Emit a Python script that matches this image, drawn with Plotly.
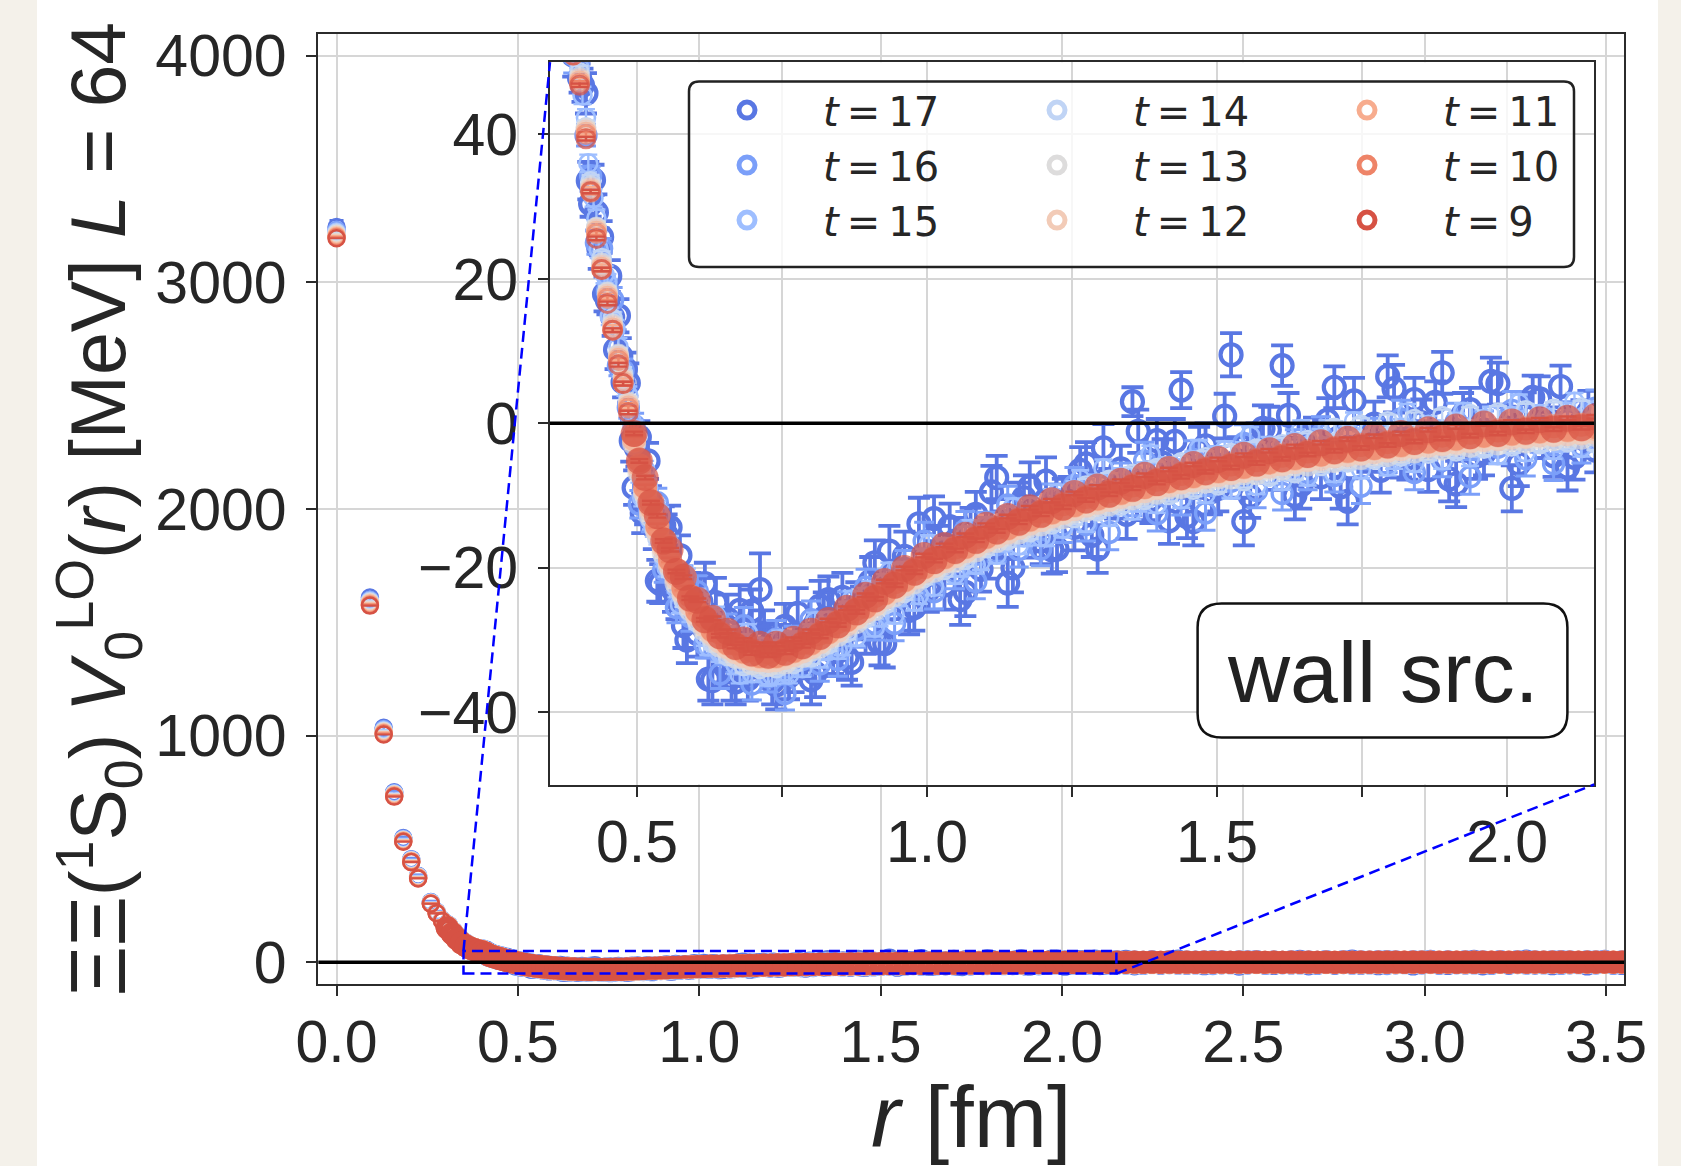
import plotly.graph_objects as go

W, H = 1681, 1166

# ---------------- data ----------------
r_fm = [
    0.000, 0.092, 0.130, 0.159, 0.184, 0.206, 0.225, 0.260, 0.276, 0.291, 0.305, 0.319, 0.332, 0.344, 0.357, 0.368, 0.379, 0.390,
    0.401, 0.412, 0.420, 0.430, 0.439, 0.449, 0.458, 0.468, 0.476, 0.485, 0.495, 0.504, 0.514, 0.524, 0.535, 0.546, 0.557, 0.568, 0.580, 0.592,
    0.604, 0.617, 0.630, 0.643, 0.656, 0.670, 0.684, 0.698, 0.712, 0.726, 0.740, 0.755, 0.770, 0.785, 0.800, 0.815, 0.830, 0.846, 0.862, 0.878,
    0.894, 0.910, 0.927, 0.944, 0.961, 0.978, 0.995, 1.012, 1.030, 1.048, 1.066, 1.084, 1.102, 1.120, 1.139, 1.158, 1.177, 1.196, 1.215, 1.234,
    1.254, 1.274, 1.294, 1.314, 1.334, 1.354, 1.375, 1.396, 1.417, 1.438, 1.459, 1.480, 1.502, 1.524, 1.546, 1.568, 1.590, 1.612, 1.634, 1.656,
    1.679, 1.702, 1.725, 1.748, 1.771, 1.794, 1.817, 1.840, 1.864, 1.888, 1.912, 1.936, 1.960, 1.984, 2.008, 2.032, 2.056, 2.080, 2.104, 2.128,
    2.152, 2.176, 2.200, 2.224, 2.248, 2.272, 2.296, 2.320, 2.344, 2.368, 2.392, 2.416, 2.440, 2.464, 2.488, 2.512, 2.536, 2.560, 2.584, 2.608,
    2.632, 2.656, 2.680, 2.704, 2.728, 2.752, 2.776, 2.800, 2.824, 2.848, 2.872, 2.896, 2.920, 2.944, 2.968, 2.992, 3.016, 3.040, 3.064, 3.088,
    3.112, 3.136, 3.160, 3.184, 3.208, 3.232, 3.256, 3.280, 3.304, 3.328, 3.352, 3.376, 3.400, 3.424, 3.448, 3.472, 3.496, 3.520, 3.544, 3.568,
]

# second set of lattice distances where the noisy (large t) data scatter widely
r_fm_b = [
    0.406, 0.416, 0.425, 0.434, 0.444, 0.453, 0.463, 0.472, 0.480, 0.490, 0.499, 0.509, 0.519, 0.529, 0.540, 0.551, 0.562, 0.574, 0.586, 0.598,
    0.610, 0.623, 0.636, 0.649, 0.663, 0.677, 0.691, 0.705, 0.719, 0.733, 0.747, 0.762, 0.777, 0.792, 0.807, 0.822, 0.838, 0.854, 0.870, 0.886,
    0.902, 0.918, 0.935, 0.952, 0.969, 0.986, 1.003, 1.021, 1.039, 1.057, 1.075, 1.093, 1.111, 1.129, 1.148, 1.167, 1.186, 1.205, 1.224, 1.244,
    1.264, 1.284, 1.304, 1.324, 1.344, 1.364, 1.385, 1.406, 1.427, 1.448, 1.469, 1.491, 1.513, 1.535, 1.557, 1.579, 1.601, 1.623, 1.645, 1.667,
    1.690, 1.713, 1.736, 1.759, 1.782, 1.805, 1.828, 1.852, 1.876, 1.900, 1.924, 1.948, 1.972, 1.996, 2.020, 2.044, 2.068, 2.092, 2.116, 2.140,
]

v_t17 = [
    3245, 1610, 1035, 750, 548, 455, 382, 266, 223, 188, 157, 130, 107, 88, 74, 64, 57, 51,
    47.8, 45.7, 30.4, 29.2, 25.8, 17.0, 14.7, 14.9, 5.7, 5.6, -8.9, -1.9, -11.2, -11.2, -21.8, -14.1, -14.4, -24.4, -28.0, -23.5,
    -29.1, -22.2, -35.6, -29.0, -27.1, -35.8, -32.9, -26.0, -23.0, -30.8, -36.2, -28.1, -33.9, -30.7, -35.5, -25.3, -24.4, -31.6, -32.4, -25.3,
    -28.5, -19.3, -30.5, -22.0, -18.4, -25.5, -21.2, -13.2, -22.4, -16.3, -23.4, -12.6, -18.1, -7.5, -22.1, -11.3, -8.8, -16.3, -17.5, -10.8,
    -14.4, -5.6, -17.4, -9.4, -6.3, 3.0, -10.1, -2.4, -13.5, 4.6, -13.6, -3.1, -9.0, 9.5, -13.6, -3.1, -0.9, 8.0, -10.0, -3.5,
    -7.4, 5.0, -10.8, -3.0, -0.1, 6.5, -4.3, 3.3, -6.4, 7.0, -8.4, 1.9, -4.1, 5.5, -9.0, 1.3, 3.4, -4.5, -6.1, 0.2,
    -3.7, 4.6, -7.6, 0.0, 2.7, -5.3, -1.9, 5.4, -4.5, 0.9, -6.9, 3.2, -3.0, -0.3, -8.2, 2.0, 3.9, -4.1, -5.8, 0.4,
    -3.5, 4.8, -7.4, 0.2, 2.9, -5.1, -1.7, 5.6, -4.3, 1.1, -6.7, 3.4, -2.8, -0.1, -8.0, 2.2, 4.1, -3.9, -5.6, 0.6,
    -3.4, 4.9, -7.3, 0.3, 3.0, -5.0, -1.6, 5.7, -4.2, 1.2, -6.6, 3.5, -2.7, 0.0, -7.9, 2.3, 4.2, -3.8, -5.5, 0.7,
]
e_t17 = [
    30, 18, 12, 9, 7, 6, 5, 5, 4, 4, 4, 3.5, 3.5, 3.5, 3, 3, 3, 3,
    2.0, 2.8, 1.8, 2.5, 2.2, 1.9, 2.6, 2.3, 2.1, 2.7, 2.4, 2.2, 2.8, 2.5, 2.9, 2.6, 3.0, 2.7, 3.1, 2.8,
    3.2, 2.9, 3.3, 3.0, 3.4, 3.1, 3.3, 3.0, 5.0, 3.2, 3.4, 3.1, 3.3, 3.0, 3.4, 3.5, 3.2, 3.4, 3.1, 3.3,
    3.4, 3.1, 3.3, 3.0, 3.4, 3.2, 3.3, 3.1, 3.4, 3.2, 3.3, 3.1, 3.4, 3.0, 3.3, 3.1, 3.4, 3.2, 3.3, 3.1,
    3.2, 3.0, 3.3, 3.1, 3.2, 2.0, 3.3, 3.0, 3.2, 2.5, 3.3, 3.1, 3.2, 3.0, 3.3, 3.1, 3.2, 2.8, 3.3, 3.0,
    3.1, 2.9, 3.2, 3.0, 3.1, 2.9, 3.2, 3.0, 3.1, 2.9, 3.2, 3.0, 3.1, 2.9, 3.2, 3.0, 3.1, 2.9, 3.2, 3.0,
    3.1, 2.9, 3.2, 3.0, 3.1, 2.9, 3.2, 3.0, 3.1, 2.9, 3.2, 3.0, 3.1, 2.9, 3.2, 3.0, 3.1, 2.9, 3.2, 3.0,
    3.1, 2.9, 3.2, 3.0, 3.1, 2.9, 3.2, 3.0, 3.1, 2.9, 3.2, 3.0, 3.1, 2.9, 3.2, 3.0, 3.1, 2.9, 3.2, 3.0,
    3.1, 2.9, 3.2, 3.0, 3.1, 2.9, 3.2, 3.0, 3.1, 2.9, 3.2, 3.0, 3.1, 2.9, 3.2, 3.0, 3.1, 2.9, 3.2, 3.0,
]
v_t17_b = [
    46.8, 33.6, 33.7, 24.2, 17.9, 20.4, 10.2, 9.3, 7.5, -2.4, -3.4, -12.4, -5.2, -14.4, -22.2, -15.5, -23.0, -18.3, -30.0, -25.5,
    -24.7, -35.4, -24.8, -32.8, -35.2, -25.9, -35.4, -31.9, -29.5, -35.8, -31.3, -35.0, -26.3, -32.3, -34.6, -27.0, -31.6, -24.1, -33.1, -26.1,
    -21.9, -30.4, -17.7, -23.9, -25.9, -13.9, -23.0, -17.6, -14.3, -24.4, -15.0, -20.2, -9.5, -15.4, -20.0, -10.3, -15.1, -8.0, -17.4, -10.8,
    -6.5, -15.5, -3.4, -10.1, -12.6, -1.1, -10.6, -5.5, -2.5, -12.9, -3.9, -9.4, 1.0, -5.2, -10.1, -0.7, -5.8, 1.1, -8.5, -2.2,
    0.4, -8.8, 3.1, -3.8, -6.5, 4.8, -4.8, 0.1, 2.9, -7.7, 1.2, -4.5, 5.8, -0.6, -5.6, 3.6, -1.6, 5.1, -4.7, 1.5,
]
e_t17_b = [
    2.3, 2.6, 2.1, 2.8, 2.4, 2.2, 2.7, 2.5, 2.3, 2.9, 2.6, 2.8, 2.5, 3.0, 2.7, 2.9, 3.1, 2.8, 3.2, 3.0,
    3.3, 3.0, 3.4, 3.1, 3.2, 3.5, 3.0, 3.3, 3.6, 3.1, 3.4, 3.2, 3.5, 3.0, 3.3, 3.6, 3.1, 3.4, 3.2, 3.5,
    3.4, 3.1, 3.5, 3.2, 3.3, 3.6, 3.1, 3.4, 3.2, 3.5, 3.3, 3.1, 3.6, 3.2, 3.4, 3.1, 3.5, 3.3, 3.2, 3.4,
    3.2, 3.0, 3.3, 3.1, 3.4, 3.0, 3.2, 3.3, 3.1, 3.0, 3.4, 3.2, 3.1, 3.3, 3.0, 3.2, 3.4, 3.1, 3.3, 3.0,
    3.1, 3.0, 3.2, 2.9, 3.1, 3.3, 3.0, 3.2, 2.9, 3.1, 3.0, 3.2, 3.3, 2.9, 3.1, 3.0, 3.2, 2.9, 3.1, 3.0,
]

v_t16 = [
    3232, 1600, 1029, 747, 545, 453, 380, 265, 222, 187, 157, 130, 107, 88, 74, 64, 57, 51,
    50.6, 39.9, 34.3, 25.0, 24.2, 18.3, 17.1, 8.0, 7.3, 2.2, -0.3, -11.2, -7.9, -13.2, -11.0, -20.3, -19.3, -25.5, -21.5, -26.8,
    -23.3, -30.6, -28.0, -34.7, -28.8, -32.4, -28.0, -36.1, -32.3, -35.1, -29.9, -37.4, -30.6, -32.7, -27.2, -33.3, -29.3, -32.7, -25.9, -28.6,
    -22.7, -27.7, -22.9, -27.7, -20.1, -22.1, -16.3, -23.3, -18.6, -20.6, -14.8, -21.9, -14.8, -16.8, -11.3, -17.5, -13.7, -17.4, -11.0, -14.1,
    -8.6, -14.0, -9.8, -15.1, -8.0, -10.5, -5.2, -12.5, -8.1, -10.4, -5.0, -12.4, -5.7, -8.0, -2.8, -9.3, -5.8, -9.7, -3.5, -6.8,
    -1.6, -7.2, -3.2, -8.7, -1.8, -4.5, 0.6, -6.8, -2.6, -5.1, 0.2, -7.4, -0.8, -3.3, 1.8, -4.9, -1.5, -5.6, 0.4, -3.1,
    2.1, -3.8, 0.0, -5.7, 1.0, -1.9, 3.0, -4.7, -0.7, -3.4, 1.7, -6.1, 0.3, -2.3, 2.6, -4.2, -1.0, -5.2, 0.7, -2.9,
    2.2, -3.7, 0.1, -5.6, 1.1, -1.8, 3.1, -4.6, -0.6, -3.3, 1.8, -6.0, 0.4, -2.2, 2.7, -4.1, -0.9, -5.1, 0.8, -2.8,
    2.3, -3.6, 0.2, -5.5, 1.2, -1.7, 3.2, -4.5, -0.5, -3.2, 1.9, -5.9, 0.5, -2.1, 2.8, -4.0, -0.8, -5.0, 0.9, -2.7,
]
e_t16 = [
    22, 14, 10, 8, 6, 5, 5, 4, 4, 3.5, 3, 3, 3, 3, 2.5, 2.5, 2.5, 2.5,
    1.4, 1.5, 1.3, 1.6, 1.4, 1.5, 1.7, 1.4, 1.6, 1.5, 1.7, 1.9, 1.6, 1.8, 2.0, 1.7, 1.9, 2.1, 1.8, 2.0,
    2.2, 1.9, 2.3, 2.0, 2.4, 2.1, 2.5, 2.2, 2.4, 2.1, 2.6, 2.3, 2.5, 2.2, 2.6, 2.4, 2.5, 2.3, 2.6, 2.4,
    2.5, 2.3, 2.6, 2.4, 2.5, 2.3, 2.6, 2.4, 2.5, 2.3, 2.6, 2.4, 2.5, 2.3, 2.6, 2.4, 2.5, 2.3, 2.6, 2.4,
    2.5, 2.3, 2.6, 2.4, 2.5, 2.3, 2.6, 2.4, 2.5, 2.3, 2.6, 2.4, 2.5, 2.3, 2.6, 2.4, 2.5, 2.3, 2.6, 2.4,
    2.5, 2.3, 2.6, 2.4, 2.5, 2.3, 2.6, 2.4, 2.5, 2.3, 2.6, 2.4, 2.5, 2.3, 2.6, 2.4, 2.5, 2.3, 2.6, 2.4,
    2.5, 2.3, 2.6, 2.4, 2.5, 2.3, 2.6, 2.4, 2.5, 2.3, 2.6, 2.4, 2.5, 2.3, 2.6, 2.4, 2.5, 2.3, 2.6, 2.4,
    2.5, 2.3, 2.6, 2.4, 2.5, 2.3, 2.6, 2.4, 2.5, 2.3, 2.6, 2.4, 2.5, 2.3, 2.6, 2.4, 2.5, 2.3, 2.6, 2.4,
    2.5, 2.3, 2.6, 2.4, 2.5, 2.3, 2.6, 2.4, 2.5, 2.3, 2.6, 2.4, 2.5, 2.3, 2.6, 2.4, 2.5, 2.3, 2.6, 2.4,
]

v_t15 = [
    3225, 1596, 1025, 745, 543, 451, 379, 264, 222, 187, 156, 130, 106, 88, 74, 64, 57, 52,
    49.2, 42.3, 33.0, 28.4, 22.1, 19.5, 13.9, 10.6, 6.0, 3.9, -0.8, -7.0, -6.4, -13.5, -11.9, -18.6, -16.8, -22.9, -21.0, -26.3,
    -24.1, -29.6, -27.0, -31.8, -29.3, -33.5, -30.4, -34.6, -30.9, -35.1, -31.2, -34.4, -30.2, -33.9, -29.0, -32.6, -27.3, -31.4, -25.9, -29.6,
    -24.0, -28.3, -22.1, -26.5, -20.4, -24.7, -18.6, -22.6, -17.1, -21.0, -15.5, -19.6, -14.2, -18.2, -12.7, -16.9, -11.5, -15.7, -10.3, -14.6,
    -9.2, -13.8, -8.3, -13.0, -7.4, -12.1, -6.6, -11.2, -5.9, -10.5, -5.1, -9.8, -4.4, -9.2, -3.8, -8.6, -3.1, -8.0, -2.6, -7.4,
    -2.0, -6.9, -1.5, -6.4, -1.1, -6.0, -0.6, -5.5, -0.2, -5.1, 0.2, -4.7, 0.6, -4.4, 1.0, -4.0, 1.3, -3.7, 1.6, -3.4,
    1.8, -3.2, 2.0, -3.0, 2.2, -2.8, 2.3, -2.6, 2.4, -2.5, 2.5, -2.4, 2.6, -2.3, 2.7, -2.2, 2.7, -2.1, 2.8, -2.0,
    2.8, -1.9, 2.8, -1.8, 2.9, -1.7, 2.9, -1.6, 2.9, -1.5, 3.0, -1.5, 3.0, -1.4, 3.0, -1.3, 3.0, -1.3, 3.0, -1.2,
    3.0, -1.2, 3.0, -1.1, 3.0, -1.1, 3.1, -1.0, 3.1, -1.0, 3.1, -0.9, 3.1, -0.9, 3.1, -0.9, 3.1, -0.8, 3.1, -0.8,
]
v_t15_b = [
    45.4, 36.0, 31.2, 24.1, 20.6, 14.8, 13.1, 7.7, 5.0, 0.4, -2.0, -10.3, -8.9, -14.5, -12.8, -20.0, -19.6, -25.1, -21.3, -26.2,
    -24.9, -30.9, -26.6, -32.0, -30.2, -34.8, -29.0, -33.4, -32.2, -34.9, -29.9, -34.8, -30.0, -32.4, -27.4, -31.5, -28.2, -30.9, -24.4, -26.8,
    -23.1, -26.9, -20.5, -24.1, -20.7, -23.8, -16.7, -20.1, -18.0, -20.0, -14.6, -19.1, -14.2, -16.5, -11.6, -15.8, -12.7, -15.8, -9.7, -12.5,
    -7.7, -12.0, -6.2, -10.3, -7.4, -11.0, -4.3, -8.0, -6.2, -8.5, -3.5, -8.3, -3.7, -6.3, -1.7, -6.2, -3.4, -6.7, -0.8, -3.9,
    -0.8, -5.3, 0.3, -4.0, -1.3, -5.1, 1.5, -2.4, -0.8, -3.3, 1.6, -3.4, 1.1, -1.7, 2.8, -1.9, 0.8, -2.7, 3.0, -0.2,
]

v_t14 = [
    3220, 1593, 1022, 743, 541, 450, 378, 263, 221, 186, 156, 129, 106, 88, 73, 64, 57, 52,
    48.6, 41.0, 33.5, 27.1, 22.9, 18.1, 14.5, 9.5, 6.9, 2.8, -2.6, -6.1, -10.5, -12.1, -15.9, -17.0, -20.4, -21.6, -24.5, -25.1,
    -27.6, -27.9, -30.4, -30.1, -32.2, -31.5, -33.6, -32.4, -34.0, -32.6, -33.9, -32.1, -33.3, -31.2, -32.4, -30.1, -30.6, -28.4, -29.0, -26.8,
    -27.0, -24.9, -25.1, -22.8, -23.5, -21.0, -21.4, -19.6, -20.3, -18.0, -18.9, -16.6, -17.3, -15.3, -16.2, -14.0, -15.1, -12.9, -14.0, -11.8,
    -13.1, -8.6, -12.2, -7.8, -11.4, -7.0, -10.6, -6.2, -9.9, -5.4, -9.2, -4.7, -8.6, -4.1, -8.0, -3.5, -7.4, -2.9, -6.9, -2.3,
    -5.9, -0.6, -5.4, -0.2, -5.0, 0.3, -4.6, 0.6, -4.2, 1.0, -3.9, 1.3, -3.5, 1.5, -3.2, 1.8, -2.9, 2.0, -2.6, 2.2,
    -2.8, -0.5, -2.7, -0.4, -2.6, -0.3, -2.5, -0.3, -2.4, -0.2, -2.3, -0.2, -2.2, -0.1, -2.1, -0.1, -2.0, 0.0, -2.0, 0.0,
    -1.9, 0.1, -1.9, 0.1, -1.8, 0.1, -1.8, 0.2, -1.7, 0.2, -1.7, 0.2, -1.6, 0.2, -1.6, 0.3, -1.6, 0.3, -1.5, 0.3,
    -1.5, 0.3, -1.5, 0.3, -1.4, 0.4, -1.4, 0.4, -1.4, 0.4, -1.3, 0.4, -1.3, 0.4, -1.3, 0.4, -1.3, 0.5, -1.2, 0.5,
]

v_t13 = [
    3215, 1590, 1019, 741, 540, 449, 377, 262, 220, 185, 155, 129, 106, 87, 73, 64, 57, 52,
    48.0, 40.9, 32.9, 27.2, 22.2, 18.2, 13.8, 9.6, 6.4, 3.0, -2.8, -6.8, -9.7, -12.8, -15.1, -17.9, -19.8, -22.1, -23.7, -25.7,
    -26.9, -28.6, -29.5, -30.8, -31.3, -32.3, -32.5, -33.2, -33.1, -33.5, -33.1, -33.1, -32.4, -32.2, -31.3, -30.9, -29.8, -29.3, -28.1, -27.5,
    -26.3, -25.7, -24.4, -23.8, -22.6, -22.0, -20.8, -20.4, -19.4, -19.0, -18.0, -17.6, -16.6, -16.3, -15.4, -15.1, -14.2, -14.0, -13.2, -13.0,
    -12.2, -12.0, -11.3, -11.2, -10.5, -10.4, -9.7, -9.6, -8.9, -8.8, -8.2, -8.1, -7.5, -7.5, -6.9, -6.9, -6.3, -6.3, -5.7, -5.7,
    -5.2, -5.2, -4.7, -4.8, -4.3, -4.4, -3.9, -3.9, -3.4, -3.5, -3.0, -3.1, -2.6, -2.8, -2.3, -2.5, -2.0, -2.2, -1.8, -2.0,
    -1.6, -1.9, -1.5, -1.8, -1.4, -1.7, -1.3, -1.6, -1.2, -1.5, -1.2, -1.4, -1.1, -1.4, -1.0, -1.3, -1.0, -1.3, -0.9, -1.2,
    -0.9, -1.2, -0.8, -1.1, -0.8, -1.1, -0.8, -1.0, -0.7, -1.0, -0.7, -1.0, -0.7, -0.9, -0.6, -0.9, -0.6, -0.9, -0.6, -0.9,
    -0.5, -0.8, -0.5, -0.8, -0.5, -0.8, -0.5, -0.8, -0.4, -0.7, -0.4, -0.7, -0.4, -0.7, -0.4, -0.7, -0.4, -0.7, -0.4, -0.7,
]

v_t12 = [
    3210, 1586, 1016, 739, 538, 448, 375, 261, 219, 185, 155, 128, 105, 87, 73, 64, 57, 52,
    47.7, 40.6, 32.6, 26.9, 21.9, 17.9, 13.5, 9.3, 6.1, 2.7, -2.4, -6.3, -9.4, -12.1, -14.8, -17.3, -19.5, -21.5, -23.4, -25.1,
    -26.6, -28.0, -29.2, -30.2, -31.0, -31.7, -32.2, -32.6, -32.8, -32.9, -32.8, -32.5, -32.1, -31.6, -31.0, -30.3, -29.5, -28.7, -27.8, -26.9,
    -26.0, -25.1, -24.1, -23.2, -22.3, -21.4, -20.5, -19.8, -19.1, -18.4, -17.7, -17.0, -16.3, -15.7, -15.1, -14.5, -13.9, -13.4, -12.9, -12.4,
    -11.9, -11.4, -11.0, -10.6, -10.2, -9.8, -9.4, -9.0, -8.6, -8.2, -7.9, -7.5, -7.2, -6.9, -6.6, -6.3, -6.0, -5.7, -5.4, -5.1,
    -4.9, -4.6, -4.4, -4.2, -4.0, -3.8, -3.6, -3.3, -3.1, -2.9, -2.7, -2.5, -2.3, -2.2, -2.0, -1.9, -1.7, -1.6, -1.5, -1.4,
    -1.3, -1.3, -1.2, -1.2, -1.1, -1.1, -1.0, -1.0, -1.0, -0.9, -0.9, -0.9, -0.8, -0.8, -0.8, -0.7, -0.7, -0.7, -0.7, -0.6,
    -0.6, -0.6, -0.6, -0.5, -0.5, -0.5, -0.5, -0.5, -0.4, -0.4, -0.4, -0.4, -0.4, -0.4, -0.3, -0.3, -0.3, -0.3, -0.3, -0.3,
    -0.3, -0.2, -0.2, -0.2, -0.2, -0.2, -0.2, -0.2, -0.2, -0.2, -0.1, -0.1, -0.1, -0.1, -0.1, -0.1, -0.1, -0.1, -0.1, -0.1,
]

v_t11 = [
    3205, 1582, 1013, 737, 536, 446, 374, 260, 218, 184, 154, 128, 105, 87, 73, 64, 57, 52,
    47.4, 40.3, 32.3, 26.6, 21.6, 17.6, 13.2, 9.0, 5.8, 2.4, -2.2, -5.8, -8.9, -11.6, -14.3, -16.8, -19.0, -21.0, -22.9, -24.6,
    -26.1, -27.5, -28.7, -29.7, -30.5, -31.2, -31.7, -32.1, -32.3, -32.4, -32.3, -32.0, -31.6, -31.1, -30.5, -29.8, -29.0, -28.2, -27.3, -26.4,
    -25.5, -24.6, -23.6, -22.7, -21.8, -20.9, -20.0, -19.3, -18.6, -17.9, -17.2, -16.5, -15.8, -15.2, -14.6, -14.0, -13.4, -12.9, -12.4, -11.9,
    -11.4, -10.9, -10.5, -10.1, -9.7, -9.3, -8.9, -8.5, -8.1, -7.7, -7.4, -7.0, -6.7, -6.4, -6.1, -5.8, -5.5, -5.2, -4.9, -4.6,
    -4.4, -4.1, -3.9, -3.7, -3.5, -3.3, -3.1, -2.8, -2.6, -2.4, -2.2, -2.0, -1.8, -1.7, -1.5, -1.4, -1.2, -1.1, -1.0, -0.9,
    -0.8, -0.8, -0.7, -0.7, -0.6, -0.6, -0.5, -0.5, -0.5, -0.4, -0.4, -0.4, -0.3, -0.3, -0.3, -0.2, -0.2, -0.2, -0.2, -0.1,
    -0.1, -0.1, -0.1, 0.0, 0.0, 0.0, 0.0, 0.0, 0.1, 0.1, 0.1, 0.1, 0.1, 0.1, 0.2, 0.2, 0.2, 0.2, 0.2, 0.2,
    0.2, 0.3, 0.3, 0.3, 0.3, 0.3, 0.3, 0.3, 0.3, 0.3, 0.4, 0.4, 0.4, 0.4, 0.4, 0.4, 0.4, 0.4, 0.4, 0.4,
]

v_t10 = [
    3200, 1578, 1009, 734, 534, 444, 372, 259, 217, 183, 153, 127, 104, 86, 72, 63, 56, 51,
    47.1, 40.0, 32.0, 26.3, 21.3, 17.3, 12.9, 8.7, 5.5, 2.1, -1.6, -5.1, -8.8, -10.9, -14.2, -16.1, -18.9, -20.3, -22.8, -23.9,
    -26.0, -26.8, -28.6, -29.0, -30.4, -30.5, -31.6, -31.4, -32.2, -31.7, -32.2, -31.3, -31.5, -30.4, -30.4, -29.1, -28.9, -27.5, -27.2, -25.7,
    -25.4, -23.9, -23.5, -22.0, -21.7, -20.2, -19.9, -18.6, -18.5, -17.2, -17.1, -15.8, -15.7, -14.5, -14.5, -13.3, -13.3, -12.2, -12.3, -11.2,
    -11.3, -10.2, -10.4, -9.4, -9.6, -8.6, -8.8, -7.8, -8.0, -7.0, -7.3, -6.3, -6.6, -5.7, -6.0, -5.1, -5.4, -4.5, -4.8, -3.9,
    -4.3, -3.4, -3.8, -3.0, -3.4, -2.6, -3.0, -2.1, -2.5, -1.7, -2.1, -1.3, -1.7, -1.0, -1.4, -0.7, -1.1, -0.4, -0.9, -0.2,
    -0.5, 0.3, -0.4, 0.3, -0.4, 0.4, -0.3, 0.4, -0.3, 0.4, -0.3, 0.5, -0.2, 0.5, -0.2, 0.5, -0.2, 0.5, -0.1, 0.6,
    -0.1, 0.6, -0.1, 0.6, 0.0, 0.6, 0.0, 0.6, 0.0, 0.7, 0.0, 0.7, 0.1, 0.7, 0.1, 0.7, 0.1, 0.7, 0.1, 0.7,
    0.1, 0.8, 0.1, 0.8, 0.2, 0.8, 0.2, 0.8, 0.2, 0.8, 0.2, 0.8, 0.2, 0.8, 0.2, 0.8, 0.2, 0.8, 0.2, 0.8,
]

v_t9 = [
    3195, 1574, 1005, 731, 532, 442, 370, 258, 216, 182, 152, 126, 104, 86, 72, 63, 56, 51,
    46.8, 39.4, 32.1, 25.6, 21.3, 16.6, 12.9, 8.1, 5.5, 1.5, -1.4, -5.2, -7.5, -11.0, -12.8, -16.3, -17.5, -20.5, -21.3, -24.2,
    -24.5, -27.2, -27.0, -29.4, -28.8, -30.9, -30.0, -31.8, -30.6, -32.1, -30.6, -31.7, -29.9, -30.8, -28.8, -29.5, -27.3, -27.9, -25.6, -26.1,
    -23.8, -24.3, -21.9, -22.4, -20.1, -20.6, -18.3, -19.0, -16.9, -17.6, -15.5, -16.2, -14.1, -14.9, -12.9, -13.7, -11.7, -12.6, -10.7, -11.6,
    -9.7, -10.6, -8.8, -9.8, -8.0, -9.0, -7.2, -8.2, -6.4, -7.4, -5.7, -6.7, -5.0, -6.1, -4.4, -5.5, -3.8, -4.9, -3.2, -4.3,
    -2.7, -3.8, -2.2, -3.4, -1.8, -3.0, -1.4, -2.5, -0.9, -2.1, -0.5, -1.7, -0.1, -1.4, 0.2, -1.1, 0.5, -0.8, 0.7, -0.6,
    0.9, -0.5, 0.9, -0.4, 1.0, -0.4, 1.0, -0.3, 1.0, -0.3, 1.1, -0.3, 1.1, -0.2, 1.1, -0.2, 1.1, -0.2, 1.2, -0.2,
    1.2, -0.1, 1.2, -0.1, 1.2, -0.1, 1.2, -0.1, 1.3, 0.0, 1.3, 0.0, 1.3, 0.0, 1.3, 0.0, 1.3, 0.1, 1.3, 0.1,
    1.3, 0.1, 1.3, 0.1, 1.4, 0.1, 1.4, 0.1, 1.4, 0.2, 1.4, 0.2, 1.4, 0.2, 1.4, 0.2, 1.4, 0.2, 1.4, 0.2,
]

# symmetric errors of the smooth (small-t) series, in MeV
e_t15 = 1.2
e_t14 = 0.9
e_t13 = 0.7
e_t12 = 0.5
e_t11 = 0.4
e_t10 = 0.3
e_t9 = 0.25

t_values = [17, 16, 15, 14, 13, 12, 11, 10, 9]
series_x = [r_fm + r_fm_b, r_fm, r_fm + r_fm_b, r_fm, r_fm, r_fm, r_fm, r_fm, r_fm]
series_v = [v_t17 + v_t17_b, v_t16, v_t15 + v_t15_b, v_t14, v_t13, v_t12, v_t11, v_t10, v_t9]
series_e = [e_t17 + e_t17_b, e_t16, e_t15, e_t14, e_t13, e_t12, e_t11, e_t10, e_t9]

colors = ['#5977e3', '#7b9ff9', '#9ebeff', '#c0d4f5', '#dddcdc',
          '#f2cbb7', '#f7ac8e', '#ee8468', '#d65244']

# inset marker styling: noisy series (size, ring width, error-bar thickness, cap half-width)
inset_noisy = {17: (21, 4.2, 3.8, 11), 16: (20, 3.4, 3.0, 10), 15: (18, 2.6, 2.4, 9), 14: (18, 2.6, 2.2, 9)}
# dense-band diameter for the smooth series
inset_band = {13: 24, 12: 24, 11: 24, 10: 24, 9: 27}

# ---------------- geometry ----------------
def px_x(p):
    return p / W


def px_y(p):
    return 1 - p / H


main_dom_x = [px_x(318.4), px_x(1624.2)]
main_dom_y = [px_y(983.8), px_y(34.3)]
ins_dom_x = [px_x(550.0), px_x(1594.2)]
ins_dom_y = [px_y(784.5), px_y(62.2)]

main_xr = [-0.05, 3.55]
main_yr = [-95, 4095]
ins_xr = [0.35, 2.15]
ins_yr = [-50, 50]

TXT = '#262626'
GRID = '#d6d6d6'
SPINE = '#2b2b2b'
SANS = 'Liberation Sans, Arial, sans-serif'
TICKFONT = dict(family=SANS, size=59, color=TXT)

fig = go.Figure()

legend_of = ['legend', 'legend', 'legend', 'legend2', 'legend2', 'legend2',
             'legend3', 'legend3', 'legend3']

for i, t in enumerate(t_values):
    xs = series_x[i]
    vals = series_v[i]
    err = series_e[i]
    col = colors[i]
    if t in inset_noisy:
        msize, mlw, eth, ew = inset_noisy[t]
        ins_marker = dict(symbol='circle-open', size=msize, color=col, line=dict(width=mlw, color=col))
    else:
        eth, ew = 2.4, 9
        bd = inset_band[t]
        # open rings on the steep repulsive part, where they stand apart; dense band elsewhere
        ins_marker = dict(symbol=['circle-open' if rv < 0.49 else 'circle' for rv in xs],
                          size=[18 if rv < 0.49 else bd for rv in xs], color=col,
                          line=dict(width=[3.0 if rv < 0.49 else 0 for rv in xs], color=col))
    if isinstance(err, list):
        ey_main = dict(type='data', array=err, color=col, thickness=2, width=7)
        ey_ins = dict(type='data', array=err, color=col, thickness=eth, width=ew)
    else:
        ey_main = dict(type='constant', value=err, color=col, thickness=2, width=7)
        ey_ins = dict(type='constant', value=err, color=col, thickness=eth, width=ew)
    main_lw = [2.5 if rv < 0.3 else 7.0 for rv in xs]
    fig.add_trace(go.Scatter(
        x=xs, y=vals, xaxis='x', yaxis='y', mode='markers',
        name='<i>t</i>\u2009=\u2009%d' % t, legend=legend_of[i], showlegend=True,
        marker=dict(symbol='circle-open', size=16, color=col,
                    line=dict(width=main_lw, color=col)),
        error_y=ey_main, hoverinfo='skip'))
    fig.add_trace(go.Scatter(
        x=xs, y=vals, xaxis='x2', yaxis='y2', mode='markers',
        showlegend=False, marker=ins_marker,
        error_y=ey_ins, hoverinfo='skip'))


def main_to_paper(xv, yv):
    px = main_dom_x[0] + (xv - main_xr[0]) / (main_xr[1] - main_xr[0]) * (main_dom_x[1] - main_dom_x[0])
    py = main_dom_y[0] + (yv - main_yr[0]) / (main_yr[1] - main_yr[0]) * (main_dom_y[1] - main_dom_y[0])
    return px, py


def rrect(x0, y0, x1, y1, rad):
    rx, ry = rad / W, rad / H
    X0, X1 = px_x(x0), px_x(x1)
    Yt, Yb = px_y(y0), px_y(y1)
    return (f"M {X0+rx},{Yt} L {X1-rx},{Yt} Q {X1},{Yt} {X1},{Yt-ry} "
            f"L {X1},{Yb+ry} Q {X1},{Yb} {X1-rx},{Yb} L {X0+rx},{Yb} "
            f"Q {X0},{Yb} {X0},{Yb+ry} L {X0},{Yt-ry} Q {X0},{Yt} {X0+rx},{Yt} Z")


shapes = []
# white page area on the beige background
shapes.append(dict(type='rect', xref='paper', yref='paper', x0=px_x(37), x1=px_x(1658),
                   y0=0, y1=1, fillcolor='white', line=dict(width=0), layer='below'))
# zero reference lines
shapes.append(dict(type='line', xref='x domain', yref='y', x0=0, x1=1, y0=0, y1=0,
                   line=dict(color='black', width=3.5), layer='above'))
shapes.append(dict(type='line', xref='x2 domain', yref='y2', x0=0, x1=1, y0=0, y1=0,
                   line=dict(color='black', width=3.5), layer='above'))
# zoom indicator
dash = dict(color='#0000ff', width=2.5, dash='11px,6px')
shapes.append(dict(type='rect', xref='x', yref='y', x0=ins_xr[0], x1=ins_xr[1],
                   y0=ins_yr[0], y1=ins_yr[1], line=dash, layer='above'))
p1 = main_to_paper(ins_xr[0], ins_yr[1])
p2 = main_to_paper(ins_xr[1], ins_yr[0])
shapes.append(dict(type='line', xref='paper', yref='paper', x0=p1[0], y0=p1[1],
                   x1=ins_dom_x[0], y1=ins_dom_y[1], line=dash, layer='above'))
shapes.append(dict(type='line', xref='paper', yref='paper', x0=p2[0], y0=p2[1],
                   x1=ins_dom_x[1], y1=ins_dom_y[0], line=dash, layer='above'))
# legend frame and label frame (rounded)
shapes.append(dict(type='path', xref='paper', yref='paper', path=rrect(689, 81.5, 1574, 267, 10),
                   fillcolor='rgba(255,255,255,0.8)', line=dict(color='#222222', width=2.5), layer='above'))
shapes.append(dict(type='path', xref='paper', yref='paper', path=rrect(1197.6, 603.6, 1567.4, 737.6, 24),
                   fillcolor='white', line=dict(color='#111111', width=2.5), layer='above'))

annotations = [dict(text='wall src.', xref='paper', yref='paper',
                    x=px_x((1197.6 + 1567.4) / 2), y=px_y(672), xanchor='center', yanchor='middle',
                    showarrow=False, font=dict(family=SANS, size=86, color='#222222'))]

legend_common = dict(xanchor='left', yanchor='top', bgcolor='rgba(0,0,0,0)', borderwidth=0,
                     itemwidth=142, tracegroupgap=0, traceorder='normal',
                     font=dict(family='DejaVu Sans', size=40, color=TXT))

axis_common = dict(showgrid=True, gridcolor=GRID, gridwidth=2, zeroline=False,
                   showline=True, linecolor=SPINE, linewidth=2, mirror=True,
                   ticks='outside', ticklen=10, tickwidth=2, tickcolor=SPINE,
                   tickfont=TICKFONT, automargin=False)

fig.update_layout(
    template='none',
    width=W, height=H, autosize=False,
    margin=dict(l=0, r=0, t=0, b=0, pad=0, autoexpand=False),
    paper_bgcolor='#f4f1ea', plot_bgcolor='white',
    font=dict(family=SANS, color=TXT),
    xaxis=dict(domain=main_dom_x, range=main_xr, dtick=0.5, tick0=0, tickformat='.1f',
               title=dict(text='<i>r</i> [fm]', font=dict(size=88, color=TXT), standoff=12),
               ticklabelstandoff=-5, **axis_common),
    yaxis=dict(domain=main_dom_y, range=main_yr, dtick=1000, tick0=0,
               title=dict(text='\u039e\u039e(<sup>1</sup>S<sub>0</sub>) <i>V</i><sub>0</sub><sup>LO</sup>(<i>r</i>) [MeV] <i>L</i> = 64',
                          font=dict(size=77, color=TXT), standoff=4),
               ticklabelstandoff=8, **axis_common),
    xaxis2=dict(domain=ins_dom_x, range=ins_xr, dtick=0.5, tick0=0, tickformat='.1f', anchor='y2',
                minor=dict(dtick=0.25, tick0=0, ticks='outside', ticklen=10, tickwidth=2, tickcolor=SPINE,
                           showgrid=True, gridcolor=GRID, gridwidth=2),
                ticklabelstandoff=-5, **axis_common),
    yaxis2=dict(domain=ins_dom_y, range=ins_yr, dtick=20, tick0=0, anchor='x2',
                ticklabelstandoff=8, **axis_common),
    legend=dict(x=px_x(671), y=px_y(77.6), **legend_common),
    legend2=dict(x=px_x(981), y=px_y(77.6), **legend_common),
    legend3=dict(x=px_x(1291), y=px_y(77.6), **legend_common),
    shapes=shapes,
    annotations=annotations,
)

fig.write_html("out.html", config={'displayModeBar': False},
               post_script="document.body.style.margin='0px';")
